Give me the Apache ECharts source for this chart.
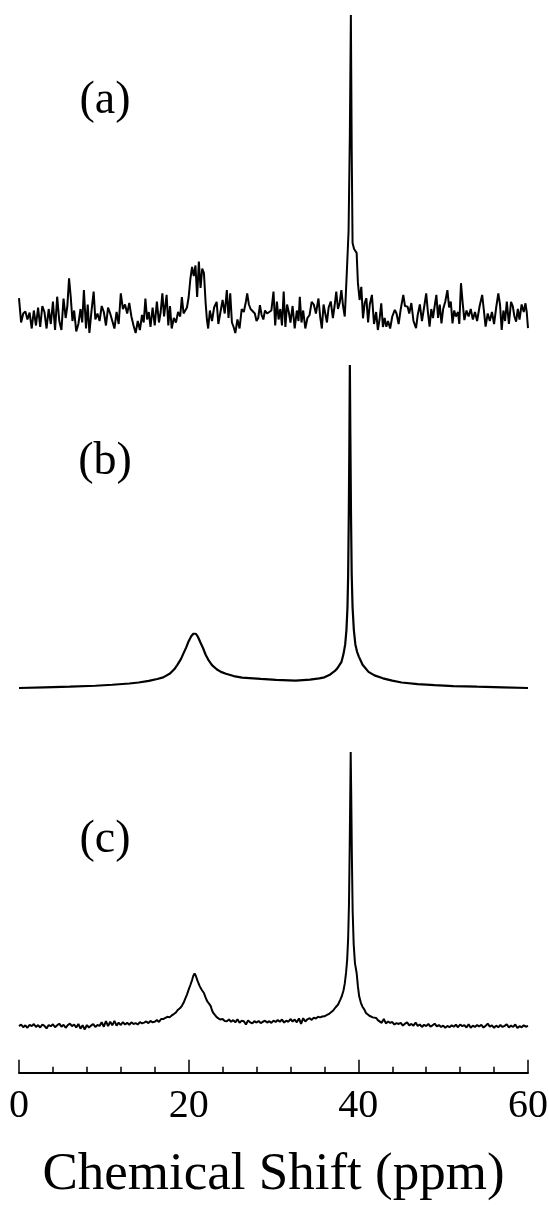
<!DOCTYPE html>
<html>
<head>
<meta charset="utf-8">
<title>Chemical Shift spectra</title>
<script src="https://cdn.jsdelivr.net/npm/echarts@6/dist/echarts.min.js"></script>
<style>
  html, body { margin: 0; padding: 0; background: #fff; }
  #chart { width: 549px; height: 1205px; }
</style>
</head>
<body>
<div id="chart"></div>
<script>
// Spectrum (a): noisy experimental trace, [shift ppm, intensity] (main peak = 100)
const spectrumA = [
  [0.0,5.6],[0.25,-2.5],[0.5,0.5],[0.75,1.2],[1.0,-1.5],[1.25,0.8],[1.5,-4.5],[1.75,1.5],[2.0,-3.5],[2.25,2.5],
  [2.5,-4.0],[2.75,3.0],[3.0,1.0],[3.25,-4.5],[3.5,2.0],[3.75,-3.0],[4.0,4.5],[4.25,-5.0],[4.5,6.1],[4.75,-2.0],
  [5.0,-5.0],[5.25,5.5],[5.5,-1.0],[5.7,3.0],[5.9,12.2],[6.1,6.0],[6.3,-2.0],[6.5,1.5],[6.75,-5.5],[7.0,-3.0],
  [7.25,2.0],[7.45,-2.5],[7.65,8.3],[7.9,-4.5],[8.1,3.5],[8.3,-6.0],[8.55,1.5],[8.8,7.8],[9.0,-1.5],[9.25,0.5],
  [9.5,-2.0],[9.75,3.0],[10.0,1.0],[10.25,-3.5],[10.5,2.5],[10.75,0.5],[11.0,-2.0],[11.25,-4.5],[11.5,1.0],[11.75,-3.0],
  [12.0,7.2],[12.25,2.0],[12.5,3.5],[12.75,0.5],[13.0,4.0],[13.25,-0.5],[13.5,-3.5],[13.75,-6.0],[14.0,-2.0],[14.25,-5.0],
  [14.5,0.0],[14.7,-2.5],[14.9,5.5],[15.1,-1.5],[15.3,1.0],[15.5,-4.0],[15.75,2.5],[16.0,-3.5],[16.25,4.5],[16.5,-2.5],
  [16.7,1.0],[16.9,7.2],[17.1,-0.5],[17.4,6.7],[17.6,-3.5],[17.8,3.0],[18.0,-4.5],[18.25,-1.0],[18.5,-2.5],[18.75,1.0],
  [19.0,-0.5],[19.2,6.0],[19.4,0.5],[19.6,0.0],[19.8,2.5],[20.0,6.0],[20.2,12.0],[20.4,16.0],[20.6,13.0],[20.8,16.5],
  [21.0,6.0],[21.2,17.8],[21.4,9.0],[21.6,15.5],[21.8,14.0],[22.0,4.0],[22.15,-1.5],[22.3,-4.5],[22.5,1.5],[22.75,-2.0],
  [23.0,2.5],[23.3,4.4],[23.5,-3.0],[23.75,1.0],[24.0,5.0],[24.25,0.5],[24.5,8.3],[24.7,-1.0],[24.9,7.2],[25.1,-2.5],
  [25.3,-4.0],[25.5,-6.0],[25.75,-1.5],[26.0,-4.5],[26.25,2.0],[26.5,1.0],[26.75,4.5],[26.9,7.2],[27.1,3.5],[27.3,2.0],
  [27.5,1.5],[27.8,0.5],[28.0,-2.0],[28.2,-1.0],[28.4,3.3],[28.6,0.0],[28.8,-1.5],[29.0,1.5],[29.25,0.5],[29.5,1.0],
  [29.75,1.5],[30.0,7.8],[30.2,-3.5],[30.4,4.5],[30.6,-1.5],[30.8,2.0],[31.0,-3.5],[31.2,7.8],[31.4,-4.0],[31.6,3.5],
  [31.8,1.0],[32.0,-2.5],[32.25,3.0],[32.5,-4.5],[32.75,1.5],[32.95,-2.0],[33.1,6.1],[33.3,-2.5],[33.5,1.5],[33.75,-4.5],
  [34.0,-1.0],[34.25,0.0],[34.5,4.4],[34.75,3.5],[35.0,0.5],[35.3,5.5],[35.5,-0.5],[35.7,-4.5],[35.9,3.5],[36.1,0.5],
  [36.3,-2.5],[36.5,2.5],[36.75,4.5],[37.0,-1.0],[37.2,3.0],[37.4,7.8],[37.6,2.0],[37.8,4.0],[38.0,8.3],[38.2,3.0],
  [38.4,-0.5],[38.55,8.3],[38.7,18.0],[38.85,28.0],[39.0,60.0],[39.12,100.0],[39.22,55.0],[39.32,24.0],[39.5,22.0],[39.65,21.5],
  [39.8,20.7],[39.95,10.7],[40.15,5.0],[40.35,9.4],[40.55,-1.1],[40.75,4.0],[40.95,5.6],[41.15,-2.5],[41.35,3.5],[41.6,6.7],
  [41.85,-3.0],[42.1,1.0],[42.3,-5.0],[42.5,-1.5],[42.7,3.9],[42.9,-4.0],[43.1,-1.0],[43.3,-3.9],[43.5,-2.0],[43.75,-4.5],
  [44.0,-0.5],[44.3,1.7],[44.5,0.5],[44.75,-3.0],[45.0,2.0],[45.3,6.7],[45.5,3.0],[45.8,2.8],[46.0,0.5],[46.25,4.0],
  [46.5,-2.0],[46.8,-4.4],[47.0,0.0],[47.25,3.5],[47.5,-2.0],[47.75,2.5],[48.0,7.2],[48.2,1.0],[48.4,-3.9],[48.6,2.0],
  [48.8,-1.0],[49.0,3.0],[49.2,6.7],[49.4,-1.0],[49.6,3.5],[49.8,-2.8],[50.0,2.0],[50.25,4.5],[50.5,8.3],[50.7,2.5],
  [50.9,4.5],[51.1,-2.8],[51.3,1.5],[51.5,-0.5],[51.75,1.0],[51.9,-3.0],[52.1,10.6],[52.3,4.0],[52.5,-1.7],[52.75,1.5],
  [53.0,-0.5],[53.25,2.0],[53.5,-1.5],[53.75,1.0],[54.0,-2.0],[54.3,3.0],[54.6,6.7],[54.8,1.5],[55.0,-3.9],[55.25,0.5],
  [55.5,-2.0],[55.75,1.0],[56.0,-3.0],[56.25,2.5],[56.5,7.2],[56.7,3.5],[56.9,-5.0],[57.1,1.5],[57.3,-2.0],[57.5,4.5],
  [57.75,-3.0],[58.0,4.4],[58.2,3.0],[58.4,-0.5],[58.6,-2.2],[58.8,2.0],[59.0,-1.5],[59.25,3.5],[59.5,1.0],[59.7,3.9],
  [59.85,1.0],[60.0,-4.4]
];

// Spectrum (b): smooth simulated trace
const spectrumB = [
  [0,0],[3,0.2],[6,0.4],[9,0.7],[11,1.0],[13,1.4],[14.1,1.7],[15.3,2.2],[16.3,2.8],[17.0,3.3],
  [17.8,4.5],[18.3,5.8],[18.65,7.1],[19.1,9.0],[19.4,10.8],[19.7,12.5],[20.0,14.5],[20.3,16.0],[20.55,16.8],[20.7,16.9],
  [20.85,16.8],[21.1,15.8],[21.4,14.0],[21.7,12.3],[22.0,10.3],[22.3,8.8],[22.75,7.1],[23.3,5.8],[23.8,5.0],[24.4,4.4],
  [25.3,3.7],[26.3,3.2],[28.5,2.8],[30.3,2.5],[32.6,2.3],[34.3,2.6],[35.4,3.0],[36.0,3.3],[36.7,4.2],[37.2,5.2],
  [37.5,6.0],[38.0,8.0],[38.25,10.5],[38.45,13.5],[38.6,18.0],[38.72,25.0],[38.8,35.0],[38.88,55.0],[38.95,78.0],[39.0,100.0],
  [39.06,78.0],[39.13,55.0],[39.22,35.0],[39.32,25.0],[39.47,18.0],[39.65,13.5],[39.85,11.2],[40.05,9.8],[40.5,7.2],[41.2,5.0],
  [41.9,3.9],[42.9,3.0],[44.0,2.3],[45.1,1.7],[47.0,1.2],[49.0,0.9],[51.2,0.6],[54.0,0.4],[57.0,0.2],[60.0,0]
];

// Spectrum (c): experimental trace with low noise
const spectrumC = [
  [0.0,0.0],[0.25,0.6],[0.5,-0.4],[0.75,0.3],[1.0,-0.6],[1.25,0.5],[1.5,0.0],[1.75,0.8],[2.0,-0.3],[2.25,0.4],
  [2.5,-0.5],[2.75,0.6],[3.0,0.1],[3.25,-0.8],[3.5,0.4],[3.75,0.0],[4.0,0.7],[4.25,-0.4],[4.5,0.3],[4.75,0.9],
  [5.0,-0.2],[5.25,0.5],[5.5,-0.6],[5.75,0.4],[6.0,0.9],[6.25,0.0],[6.5,0.6],[6.75,-0.5],[7.0,0.8],[7.25,-0.9],
  [7.5,0.3],[7.75,-1.2],[8.0,0.4],[8.25,-0.5],[8.5,0.2],[8.75,0.8],[9.0,-0.3],[9.25,0.4],[9.5,0.1],[9.75,1.4],
  [10.0,-0.2],[10.25,1.8],[10.5,0.0],[10.75,1.6],[11.0,0.3],[11.25,1.9],[11.5,0.2],[11.75,1.3],[12.0,0.4],[12.25,1.5],
  [12.5,0.6],[12.75,1.2],[13.0,0.5],[13.25,1.4],[13.5,0.8],[13.75,1.1],[14.0,0.6],[14.25,1.5],[14.5,1.0],[14.75,1.3],
  [15.0,1.7],[15.25,1.1],[15.5,1.9],[15.75,1.4],[16.0,1.6],[16.25,2.2],[16.5,1.5],[16.75,2.6],[17.0,2.6],[17.25,3.0],
  [17.5,3.4],[17.75,3.2],[18.0,3.9],[18.25,4.4],[18.5,5.0],[18.75,6.0],[19.0,6.6],[19.2,7.4],[19.4,8.5],[19.6,10.0],
  [19.8,11.5],[20.0,13.3],[20.2,15.0],[20.4,16.8],[20.55,18.4],[20.7,19.2],[20.85,18.3],[21.05,16.5],[21.3,14.6],[21.55,13.2],
  [21.8,12.1],[22.0,10.4],[22.2,9.0],[22.4,8.2],[22.6,7.3],[22.75,5.8],[22.9,4.8],[23.1,4.2],[23.3,3.3],[23.5,2.9],
  [23.7,2.4],[24.0,2.6],[24.25,1.9],[24.5,1.8],[24.75,2.4],[25.0,1.6],[25.25,2.2],[25.5,1.4],[25.75,2.5],[26.0,1.2],
  [26.25,2.0],[26.5,1.8],[26.75,0.6],[27.0,2.1],[27.25,1.4],[27.5,1.0],[27.75,1.8],[28.0,1.3],[28.25,1.9],[28.5,1.1],
  [28.75,1.6],[29.0,2.0],[29.25,1.3],[29.5,1.8],[29.75,1.2],[30.0,2.0],[30.25,1.5],[30.5,2.2],[30.75,1.6],[31.0,2.4],
  [31.25,1.3],[31.5,2.0],[31.75,1.6],[32.0,2.6],[32.25,1.7],[32.5,2.4],[32.75,1.4],[33.0,2.8],[33.25,0.8],[33.5,2.9],
  [33.75,1.7],[34.0,2.5],[34.25,2.9],[34.5,2.3],[34.75,3.1],[35.0,2.8],[35.25,3.4],[35.5,3.2],[35.75,3.5],[36.0,3.6],
  [36.25,4.0],[36.6,4.6],[37.0,5.6],[37.3,6.8],[37.6,7.8],[37.85,9.5],[38.05,10.9],[38.25,13.0],[38.4,15.5],[38.55,19.4],
  [38.68,24.0],[38.8,32.0],[38.9,45.0],[38.98,65.0],[39.05,85.0],[39.1,100.0],[39.16,85.0],[39.24,62.0],[39.33,42.0],[39.45,30.0],
  [39.6,23.0],[39.8,19.4],[39.95,14.5],[40.1,10.9],[40.3,8.5],[40.5,7.0],[40.7,6.1],[40.9,4.8],[41.1,5.2],[41.3,3.8],
  [41.5,4.2],[41.7,3.2],[41.9,3.6],[42.1,3.0],[42.3,2.2],[42.5,2.8],[42.75,1.2],[43.0,2.6],[43.25,1.0],[43.5,1.7],
  [43.75,1.2],[44.0,1.5],[44.25,0.6],[44.5,1.1],[44.75,0.8],[45.0,1.2],[45.25,0.2],[45.5,0.9],[45.75,1.4],[46.0,0.3],
  [46.25,0.8],[46.5,0.2],[46.75,1.3],[47.0,0.1],[47.25,0.6],[47.5,-0.3],[47.75,0.5],[48.0,0.0],[48.25,0.8],[48.5,-0.2],
  [48.75,0.3],[49.0,0.9],[49.25,-0.1],[49.5,0.4],[49.75,-0.3],[50.0,0.2],[50.25,-0.6],[50.5,0.1],[50.75,-0.4],[51.0,0.3],
  [51.25,-0.2],[51.5,0.5],[51.75,-0.4],[52.0,0.6],[52.25,0.0],[52.5,0.4],[52.75,-0.5],[53.0,0.7],[53.25,-0.6],[53.5,0.2],
  [53.75,-0.3],[54.0,0.4],[54.25,-0.1],[54.5,0.5],[54.75,-0.5],[55.0,0.1],[55.25,0.9],[55.5,-0.2],[55.75,0.3],[56.0,-0.6],
  [56.25,0.2],[56.5,-0.4],[56.75,0.4],[57.0,-0.3],[57.25,0.1],[57.5,0.7],[57.75,-0.5],[58.0,0.2],[58.25,-0.3],[58.5,0.6],
  [58.75,-0.7],[59.0,0.0],[59.25,-0.4],[59.5,0.3],[59.75,-0.2],[60.0,0.1]
];

// Axis ticks and text
const majorTicks = [0, 20, 40, 60];
const panelLabels = ['(a)', '(b)', '(c)'];
const axisTitle = 'Chemical Shift (ppm)';

const serif = '"Liberation Serif", "Times New Roman", serif';
const plotLeft = 19;
const plotWidth = 509;

const chart = echarts.init(document.getElementById('chart'), null, { renderer: 'canvas' });

const hiddenX = (g) => ({ gridIndex: g, type: 'value', min: 0, max: 60, show: false });
const hiddenY = (g, min) => ({ gridIndex: g, type: 'value', min: min, max: 100, show: false });

const traceSeries = (data, idx, width) => ({
  type: 'line',
  xAxisIndex: idx,
  yAxisIndex: idx,
  data: data,
  showSymbol: false,
  symbol: 'none',
  silent: true,
  clip: false,
  lineStyle: { color: '#000', width: width },
  z: 3
});

const labelPos = [101, 462, 840];

const panelGrid = (top, height) => ({
  left: plotLeft, width: plotWidth, top: top, height: height,
  containLabel: false, outerBoundsMode: 'none'
});

chart.setOption({
  backgroundColor: '#ffffff',
  animation: false,
  grid: [
    panelGrid(15, 345),
    panelGrid(365, 339.15),
    panelGrid(752, 320.75)
  ],
  xAxis: [
    hiddenX(0),
    hiddenX(1),
    {
      gridIndex: 2, type: 'value', min: 0, max: 60, interval: 4, position: 'bottom',
      axisLine: { show: true, onZero: false, lineStyle: { color: '#000', width: 2 } },
      axisTick: { show: true, inside: true, length: 6, lineStyle: { color: '#000', width: 1.5 } },
      axisLabel: {
        show: true, margin: 14, color: '#000', fontFamily: serif, fontSize: 40,
        formatter: (v) => (majorTicks.indexOf(v) >= 0 ? String(v) : '')
      },
      splitLine: { show: false },
      name: axisTitle, nameLocation: 'middle', nameGap: 76,
      nameTextStyle: { color: '#000', fontFamily: serif, fontSize: 53 }
    },
    {
      gridIndex: 2, type: 'value', min: 0, max: 60, interval: 20, position: 'bottom',
      axisLine: { show: false, onZero: false },
      axisTick: { show: true, inside: true, length: 13, lineStyle: { color: '#000', width: 1.5 } },
      axisLabel: { show: false },
      splitLine: { show: false }
    }
  ],
  yAxis: [
    hiddenY(0, -15),
    hiddenY(1, -5),
    hiddenY(2, -17)
  ],
  series: [
    traceSeries(spectrumA, 0, 2),
    traceSeries(spectrumB, 1, 2.2),
    traceSeries(spectrumC, 2, 2)
  ],
  graphic: panelLabels.map((t, i) => ({
    type: 'text',
    x: 105,
    y: labelPos[i],
    silent: true,
    style: {
      text: t,
      fill: '#000',
      font: '46px ' + serif,
      align: 'center',
      verticalAlign: 'middle'
    }
  }))
});
</script>
</body>
</html>
